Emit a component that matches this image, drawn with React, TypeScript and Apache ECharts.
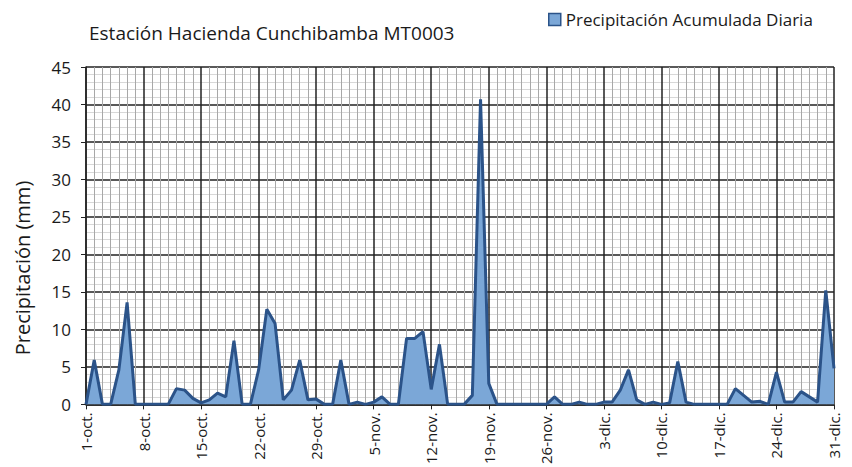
import React, { useEffect, useRef } from "react";
import * as echarts from "echarts";

const titleText = "Estación Hacienda Cunchibamba MT0003";
const seriesName = "Precipitación Acumulada Diaria";
const yAxisName = "Precipitación (mm)";
const tickLabels = [
  "1-oct.", "8-oct.", "15-oct.", "22-oct.", "29-oct.", "5-nov.", "12-nov.",
  "19-nov.", "26-nov.", "3-dic.", "10-dic.", "17-dic.", "24-dic.", "31-dic.",
];
// daily precipitation, 1-oct (index 0) to 31-dic (index 91)
const precipitation = [
  0, 5.9, 0, 0, 4.6, 13.6, 0, 0, 0, 0,
  0, 2.1, 1.9, 0.8, 0.2, 0.6, 1.5, 1.0, 8.5, 0,
  0, 4.6, 12.7, 10.8, 0.6, 1.9, 5.9, 0.6, 0.7, 0,
  0, 5.9, 0, 0.3, 0, 0.3, 1.0, 0, 0, 8.8,
  8.8, 9.7, 2.0, 8.0, 0, 0, 0, 1.2, 40.7, 2.8,
  0, 0, 0, 0, 0, 0, 0, 1.0, 0, 0,
  0.3, 0, 0, 0.3, 0.3, 1.9, 4.6, 0.6, 0, 0.3,
  0, 0.2, 5.7, 0.3, 0, 0, 0, 0, 0, 2.1,
  1.2, 0.3, 0.4, 0, 4.3, 0.3, 0.3, 1.7, 1.0, 0.3,
  15.2, 4.8,
];

const FONT = "'Open Sans', sans-serif";

export default function App() {
  const ref = useRef<HTMLDivElement>(null);
  useEffect(() => {
    if (!ref.current) return;
    const chart = echarts.init(ref.current, undefined, { renderer: "svg" });
    const data = precipitation.map((v, i) => [i, v]);
    chart.setOption({
      animation: false,
      backgroundColor: "#ffffff",
      textStyle: { fontFamily: FONT },
      title: {
        text: titleText,
        left: 84,
        top: 18,
        textStyle: { fontFamily: FONT, fontSize: 19, fontWeight: "normal", color: "#1a1a1a" },
      },
      legend: {
        left: 543,
        top: 6,
        icon: "rect",
        itemWidth: 12,
        itemHeight: 12,
        itemGap: 4,
        textStyle: { fontFamily: FONT, fontSize: 17, color: "#1a1a1a" },
        data: [{ name: seriesName, itemStyle: { color: "#7ba7d7", borderColor: "#2b5389", borderWidth: 1.5 } }],
      },
      grid: { left: 86, right: 18, top: 67, bottom: 61 },
      xAxis: {
        type: "value",
        min: 0,
        max: 91,
        interval: 7,
        axisLine: { show: true, lineStyle: { color: "#222", width: 1.5 } },
        axisTick: { show: true, length: 5, lineStyle: { color: "#222" } },
        axisLabel: {
          rotate: 90,
          fontFamily: FONT,
          fontSize: 15,
          color: "#1a1a1a",
          margin: 8,
          formatter: (v: number) => tickLabels[Math.round(v / 7)] ?? "",
        },
        splitLine: { show: true, lineStyle: { color: "#222", width: 1.5 } },
        minorTick: { show: false, splitNumber: 7 },
        minorSplitLine: { show: true, lineStyle: { color: "#a8a8a8", width: 1 } },
      },
      yAxis: {
        type: "value",
        min: 0,
        max: 45,
        interval: 5,
        axisLine: { show: true, lineStyle: { color: "#222", width: 1.5 } },
        axisTick: { show: true, length: 5, lineStyle: { color: "#222" } },
        axisLabel: { fontFamily: FONT, fontSize: 17, color: "#1a1a1a", margin: 15 },
        splitLine: { show: true, lineStyle: { color: "#222", width: 1.5 } },
        minorTick: { show: false, splitNumber: 5 },
        minorSplitLine: { show: true, lineStyle: { color: "#d8d8d8", width: 1 } },
      },
      graphic: [
        {
          type: "text",
          x: 22,
          y: 268,
          rotation: Math.PI / 2,
          style: {
            text: yAxisName,
            fontFamily: FONT,
            fontSize: 20,
            fill: "#1a1a1a",
            textAlign: "center",
            textVerticalAlign: "middle",
          },
        },
      ],
      series: [
        {
          name: seriesName,
          type: "line",
          data,
          symbol: "none",
          lineStyle: { color: "#2b5389", width: 3 },
          itemStyle: { color: "#7ba7d7", borderColor: "#2b5389" },
          areaStyle: { color: "#7ba7d7", opacity: 1 },
          z: 5,
        },
      ],
    });
    return () => chart.dispose();
  }, []);
  return <div ref={ref} style={{ position: "fixed", left: 0, top: 0, width: 852, height: 467 }} />;
}
